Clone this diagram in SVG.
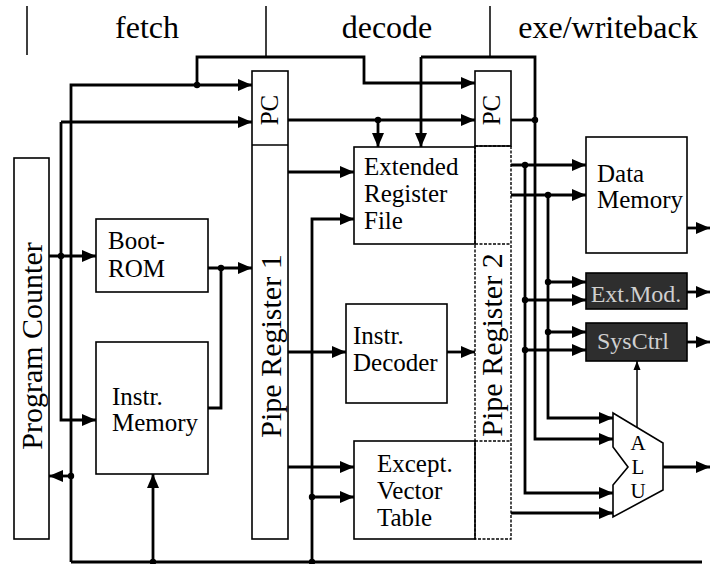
<svg xmlns="http://www.w3.org/2000/svg" width="711" height="564" viewBox="0 0 711 564">
<style>
  .box{fill:#fff;stroke:#000;stroke-width:1.6}
  .dk{fill:#2e2e2e;stroke:#000;stroke-width:1.6}
  .dot2{fill:none;stroke:#000;stroke-width:1.4;stroke-dasharray:3 1.5}
  .t{font-family:"Liberation Serif","Times New Roman",serif;font-size:25px;fill:#000}
  .h{font-family:"Liberation Serif","Times New Roman",serif;font-size:32px;fill:#000}
  .r{font-family:"Liberation Serif","Times New Roman",serif;font-size:30px;fill:#000}
  .w{font-family:"Liberation Serif","Times New Roman",serif;font-size:24px;fill:#d0d0d0}
  .alu{font-family:"Liberation Serif","Times New Roman",serif;font-size:21px;fill:#000}
  .c{fill:none;stroke:#000;stroke-width:2.8}
  .a{marker-end:url(#ah)}
  .thin{fill:none;stroke:#000;stroke-width:1.5}
</style>
<defs>
  <marker id="ah" markerUnits="userSpaceOnUse" markerWidth="14" markerHeight="14" viewBox="0 0 14 14" refX="14" refY="7" orient="auto">
    <path d="M0,1 L14,7 L0,13 Z" fill="#000"/>
  </marker>
  <marker id="ahs" markerUnits="userSpaceOnUse" markerWidth="9" markerHeight="9" viewBox="0 0 9 9" refX="9" refY="4.5" orient="auto">
    <path d="M0,1 L9,4.5 L0,8 Z" fill="#000"/>
  </marker>
</defs>

<g id="headers">
  <text class="h" x="147" y="38" text-anchor="middle">fetch</text>
  <text class="h" x="387" y="38" text-anchor="middle">decode</text>
  <text class="h" x="608" y="38" text-anchor="middle">exe/writeback</text>
  <path class="thin" d="M27,6 V55 M266,6 V57 M490,6 V57"/>
</g>

<g id="program-counter">
  <rect class="box" x="14" y="158" width="35" height="381"/>
  <text class="r" transform="translate(42,346) rotate(-90)" text-anchor="middle">Program Counter</text>
</g>
<g id="boot-rom">
  <rect class="box" x="96" y="219" width="112" height="73"/>
  <text class="t" x="108" y="249">Boot-</text>
  <text class="t" x="108" y="277">ROM</text>
</g>
<g id="instr-memory">
  <rect class="box" x="96" y="342" width="112" height="132"/>
  <text class="t" x="112" y="405">Instr.</text>
  <text class="t" x="112" y="431">Memory</text>
</g>
<g id="pipe-register-1">
  <rect class="box" x="252" y="71" width="36" height="468"/>
  <line x1="252" y1="145" x2="288" y2="145" stroke="#000" stroke-width="1.6"/>
  <text class="t" transform="translate(278,110) rotate(-90)" text-anchor="middle">PC</text>
  <text class="r" transform="translate(281,346) rotate(-90)" text-anchor="middle">Pipe Register 1</text>
</g>
<g id="extended-register-file">
  <rect class="box" x="354" y="147" width="121" height="97"/>
  <text class="t" x="364" y="175">Extended</text>
  <text class="t" x="364" y="202">Register</text>
  <text class="t" x="364" y="229">File</text>
</g>
<g id="instr-decoder">
  <rect class="box" x="346" y="304" width="101" height="99"/>
  <text class="t" x="353" y="344">Instr.</text>
  <text class="t" x="353" y="371">Decoder</text>
</g>
<g id="except-vector-table">
  <rect class="box" x="354" y="441" width="121" height="98"/>
  <text class="t" x="377" y="472">Except.</text>
  <text class="t" x="377" y="499">Vector</text>
  <text class="t" x="377" y="526">Table</text>
</g>
<g id="pipe-register-2">
  <rect class="box" x="475" y="71" width="36" height="75"/>
  <rect class="dot2" x="475" y="146" width="36" height="393"/>
  <path class="dot2" d="M475,244 H511 M475,441 H511"/>
  <text class="t" transform="translate(500,110) rotate(-90)" text-anchor="middle">PC</text>
  <text class="r" transform="translate(502,345) rotate(-90)" text-anchor="middle">Pipe Register 2</text>
</g>
<g id="data-memory">
  <rect class="box" x="586" y="137" width="101" height="116"/>
  <text class="t" x="597" y="182">Data</text>
  <text class="t" x="597" y="208">Memory</text>
</g>
<g id="ext-mod">
  <rect class="dk" x="586" y="273" width="101" height="36"/>
  <text class="w" x="636" y="302" text-anchor="middle">Ext.Mod.</text>
</g>
<g id="sysctrl">
  <rect class="dk" x="586" y="323" width="101" height="38"/>
  <text class="w" x="633" y="349" text-anchor="middle">SysCtrl</text>
</g>
<g id="alu">
  <polygon points="613,413 663,443 663,490 613,517 613,485 628,467 613,447" fill="#fff" stroke="#000" stroke-width="1.6"/>
  <text class="alu" x="638" y="450" text-anchor="middle">A</text>
  <text class="alu" x="638" y="474" text-anchor="middle">L</text>
  <text class="alu" x="638" y="498" text-anchor="middle">U</text>
</g>

<g id="connectors">
  <path class="c a" d="M71,562 V85 H252"/>
  <path class="c a" d="M197,85 V57 H364 V83 H475"/>
  <path class="c a" d="M61,122 V420 H96"/>
  <path class="c a" d="M61,122 H252"/>
  <path class="c a" d="M49,256 H96"/>
  <path class="c a" d="M71,476 H49"/>
  <path class="c" d="M71,562 H702"/>
  <path class="c a" d="M153,562 V474"/>
  <path class="c a" d="M312,562 V219 H354"/>
  <path class="c a" d="M312,497 H354"/>
  <path class="c a" d="M288,172 H354"/>
  <path class="c a" d="M288,352 H346"/>
  <path class="c a" d="M288,467 H354"/>
  <path class="c a" d="M208,268 H252"/>
  <path class="c" d="M208,408 H221 V268"/>
  <path class="c a" d="M447,352 H475"/>
  <path class="c a" d="M288,120 H475"/>
  <path class="c a" d="M378,120 V147"/>
  <path class="c a" d="M421,57 V147"/>
  <path class="c a" d="M421,57 H535 V439 H613"/>
  <path class="c" d="M511,120 H535"/>
  <path class="c a" d="M511,165 H586"/>
  <path class="c a" d="M525,165 V493 H613"/>
  <path class="c a" d="M511,195 H586"/>
  <path class="c a" d="M548,195 V418 H613"/>
  <path class="c a" d="M548,282 H586"/>
  <path class="c a" d="M525,300 H586"/>
  <path class="c a" d="M548,332 H586"/>
  <path class="c a" d="M525,350 H586"/>
  <path class="c a" d="M511,513 H613"/>
  <path class="c a" d="M687,228 H710"/>
  <path class="c a" d="M687,292 H710"/>
  <path class="c a" d="M687,342 H710"/>
  <path class="c a" d="M663,467 H710"/>
  <path class="thin" d="M637,427 V361" style="marker-end:url(#ahs)"/>
  <g fill="#000">
    <circle cx="197" cy="85" r="3.2"/>
    <circle cx="61" cy="256" r="3.2"/>
    <circle cx="71" cy="476" r="3.2"/>
    <circle cx="153" cy="562" r="3.2"/>
    <circle cx="312" cy="562" r="3.2"/>
    <circle cx="312" cy="497" r="3.2"/>
    <circle cx="221" cy="268" r="3.2"/>
    <circle cx="378" cy="120" r="3.2"/>
    <circle cx="535" cy="120" r="3.2"/>
    <circle cx="525" cy="165" r="3.2"/>
    <circle cx="548" cy="195" r="3.2"/>
    <circle cx="548" cy="282" r="3.2"/>
    <circle cx="525" cy="300" r="3.2"/>
    <circle cx="548" cy="332" r="3.2"/>
    <circle cx="525" cy="350" r="3.2"/>
  </g>
</g>
</svg>
